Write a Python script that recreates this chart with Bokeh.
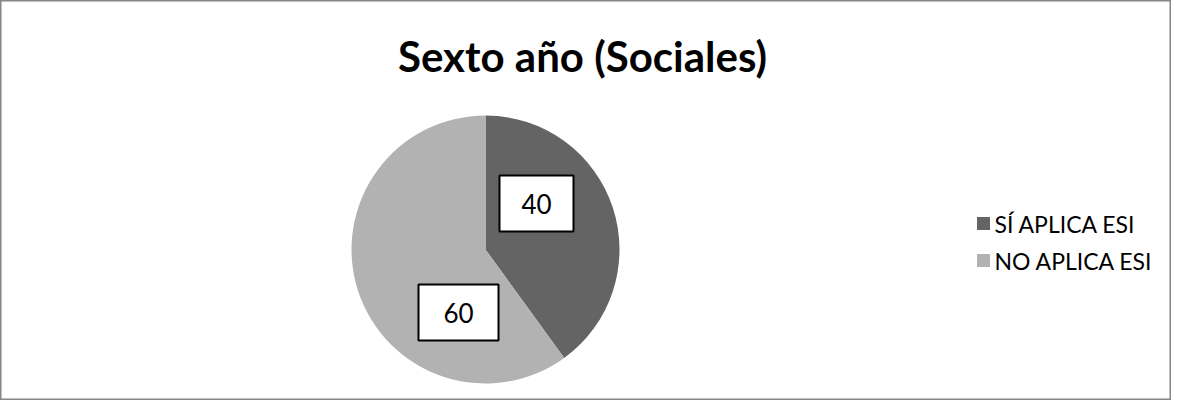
import math
from bokeh.plotting import figure
from bokeh.models import Range1d
from bokeh.core.properties import value
from bokeh.embed import file_html
from bokeh.resources import INLINE

# ---- data ----
title_text = "Sexto año (Sociales)"
categories = ["SÍ APLICA ESI", "NO APLICA ESI"]
values = [40, 60]
colors = ["#646464", "#b2b2b2"]

# ---- layout (page pixels) ----
W, H = 1171, 400
FONT = "Lato"


def fx(px):
    return px


def fy(py):
    return H - py


p = figure(width=W, height=H, output_backend="svg", toolbar_location=None,
           x_range=Range1d(0, W), y_range=Range1d(0, H),
           x_axis_type=None, y_axis_type=None, min_border=0)
p.grid.visible = False
p.background_fill_color = "white"
p.border_fill_color = "white"
p.outline_line_color = "#868686"
p.outline_line_width = 2

# pie
cx, cy, r = fx(485), fy(249), 134
total = float(sum(values))
starts, ends = [], []
acc = 0.0
for v in values:
    starts.append(math.pi / 2 - 2 * math.pi * acc / total)
    acc += v
    ends.append(math.pi / 2 - 2 * math.pi * acc / total)

p.wedge(x=[cx] * len(values), y=[cy] * len(values), radius=r,
        start_angle=starts, end_angle=ends, direction="clock",
        fill_color=colors, line_color=None)

# data labels (boxes)
label_pos = [(536, 203), (458, 312)]
label_size = [(74, 56), (80, 56)]
lx = [fx(a) for a, b in label_pos]
ly = [fy(b) for a, b in label_pos]
p.rect(x=lx, y=ly, width=[s[0] for s in label_size], height=[s[1] for s in label_size],
       fill_color="white", line_color="black", line_width=2)
p.text(x=lx, y=ly, text=[str(v) for v in values], text_font=value(FONT),
       text_font_size=value("26px"), text_align="center", text_baseline="middle",
       text_color="black")

# title
p.text(x=[fx(582)], y=[fy(55)], text=[title_text], text_font=value(FONT),
       text_font_style="bold", text_font_size=value("42px"), text_align="center",
       text_baseline="alphabetic", text_color="black")

# legend
leg_y = [223, 260]
sq_x = fx(983)
p.rect(x=[sq_x] * len(categories), y=[fy(v) for v in leg_y], width=13, height=13,
       fill_color=colors, line_color=None)
p.text(x=[fx(994)] * len(categories), y=[fy(v) for v in leg_y], text=categories,
       text_font=value(FONT), text_font_size=value("23px"), text_align="left",
       text_baseline="middle", text_color="black")

open("out.html", "w").write(file_html(p, INLINE))
